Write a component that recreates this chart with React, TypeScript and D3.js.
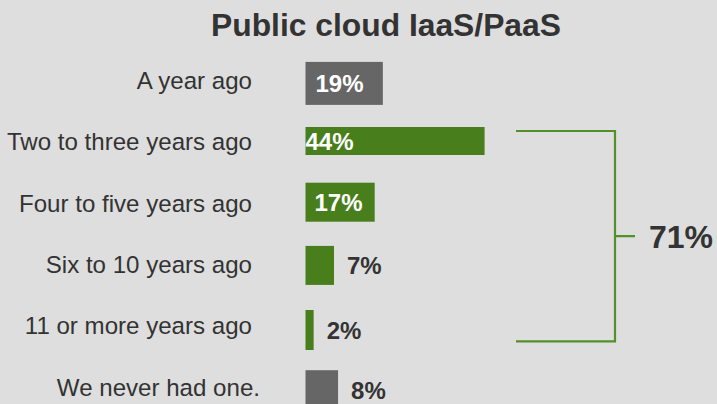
import React from "react";
import * as d3 from "d3";

const title = "Public cloud IaaS/PaaS";
const categories = [
  "A year ago",
  "Two to three years ago",
  "Four to five years ago",
  "Six to 10 years ago",
  "11 or more years ago",
  "We never had one.",
];
const values = [19, 44, 17, 7, 2, 8];
const groups = ["other", "adopt", "adopt", "adopt", "adopt", "other"];
const bracketTotal = 71;

// styling (not data)
const W = 717;
const H = 404;
const FONT = "'Liberation Sans', Arial, Helvetica, sans-serif";
const BG = "#dedede";
const GREEN = "#487e1b";
const GREEN_LINE = "#52902a";
const GRAY = "#666666";
const TEXT = "#333333";
const barHeights = [43, 28, 39, 39, 40, 40];
const barNudge = [2.7, -1, -1.1, 0.8, 4.1, 3];
const labelDx = [0, 0, 0, 0, 0, 8];
const insidePad = [10, 0, 9];
const insideThreshold = 10;

export default function App() {
  const y = d3
    .scaleBand<string>()
    .domain(categories)
    .range([50.05, 50.05 + 6 * 61.3])
    .paddingInner(0)
    .paddingOuter(0);
  const x = d3.scaleLinear().domain([0, 100]).range([305.5, 305.5 + 407]);
  const cy = (i: number) => (y(categories[i]) as number) + y.bandwidth() / 2;

  const firstAdopt = groups.indexOf("adopt");
  const lastAdopt = groups.lastIndexOf("adopt");
  const bTop = cy(firstAdopt) - 11;
  const bBot = cy(lastAdopt) + 15.5;
  const bMid = (bTop + bBot) / 2;
  const bxL = 516;
  const bxR = 615;

  let insideIdx = 0;
  return (
    <svg
      width={W}
      height={H}
      style={{ position: "absolute", left: 0, top: 0, background: BG }}
      fontFamily={FONT}
    >
      <rect x={0} y={0} width={W} height={H} fill={BG} />
      <text
        x={386}
        y={36}
        textAnchor="middle"
        fontSize={31.8}
        fontWeight="bold"
        fill={TEXT}
      >
        {title}
      </text>
      {categories.map((c, i) => (
        <text
          key={"l" + i}
          x={252 + labelDx[i]}
          y={cy(i)}
          dy="0.35em"
          textAnchor="end"
          fontSize={24.1}
          fill={TEXT}
        >
          {c}
        </text>
      ))}
      {values.map((v, i) => {
        const h = barHeights[i];
        const c = cy(i) + barNudge[i];
        const inside = v >= insideThreshold;
        const pad = inside ? insidePad[insideIdx++] : 0;
        return (
          <g key={"b" + i}>
            <rect
              x={x(0)}
              y={c - h / 2}
              width={x(v) - x(0)}
              height={h}
              fill={groups[i] === "adopt" ? GREEN : GRAY}
            />
            <text
              x={inside ? x(0) + pad : x(v) + 13}
              y={c}
              dy="0.36em"
              fontSize={24}
              fontWeight="bold"
              fill={inside ? "#ffffff" : TEXT}
            >
              {v + "%"}
            </text>
          </g>
        );
      })}
      <path
        d={`M${bxL},${bTop}H${bxR}V${bBot}H${bxL}M${bxR},${bMid}H${bxR + 20}`}
        fill="none"
        stroke={GREEN_LINE}
        strokeWidth={2.2}
      />
      <text
        x={649}
        y={bMid}
        dy="0.36em"
        fontSize={32}
        fontWeight="bold"
        fill={TEXT}
      >
        {bracketTotal + "%"}
      </text>
    </svg>
  );
}
